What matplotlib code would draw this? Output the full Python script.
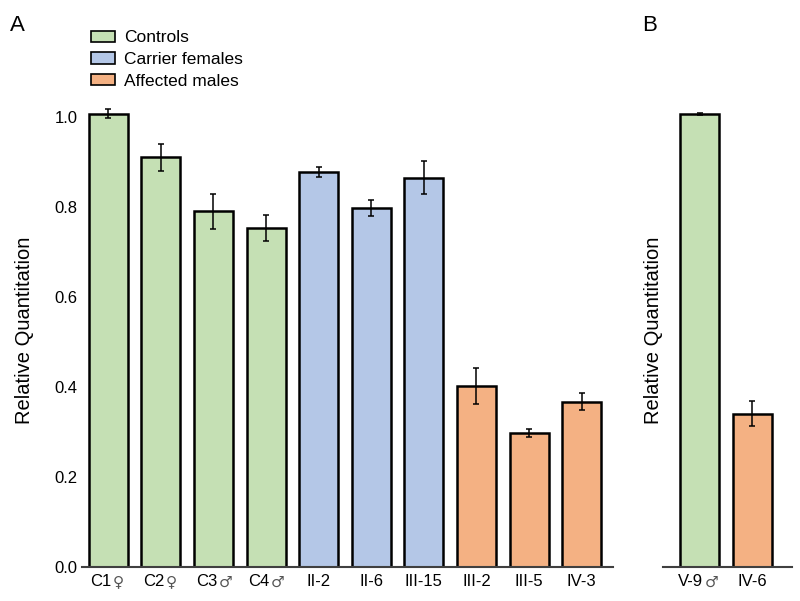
import matplotlib
matplotlib.use('Agg')
import matplotlib.pyplot as plt
from matplotlib.patches import Patch
from matplotlib.transforms import ScaledTranslation

plt.rcParams['font.family'] = ['Liberation Sans', 'DejaVu Sans']

# panel A
labels_a = ['C1♀', 'C2♀', 'C3♂', 'C4♂', 'II-2', 'II-6', 'III-15', 'III-2', 'III-5', 'IV-3']
values_a = [1.007, 0.911, 0.791, 0.753, 0.878, 0.798, 0.865, 0.402, 0.297, 0.367]
errors_a = [0.010, 0.030, 0.039, 0.029, 0.012, 0.018, 0.037, 0.040, 0.009, 0.019]
groups_a = ['Controls'] * 4 + ['Carrier females'] * 3 + ['Affected males'] * 3

# panel B
labels_b = ['V-9♂', 'IV-6']
values_b = [1.007, 0.341]
errors_b = [0.003, 0.028]
groups_b = ['Controls', 'Affected males']

colors = {'Controls': '#c5e0b4', 'Carrier females': '#b4c7e7', 'Affected males': '#f4b183'}
symbols = '♀♂'


def draw(ax, labels, values, errors, groups):
    x = list(range(len(labels)))
    ax.bar(x, values, width=0.74, color=[colors[g] for g in groups],
           edgecolor='black', linewidth=1.8, zorder=2)
    ax.errorbar(x, values, yerr=errors, fmt='none', ecolor='black',
                elinewidth=1.1, capsize=2.2, capthick=1.1, zorder=3)
    ax.set_xticks(x)
    ax.set_ylim(0, 1.05)
    for s in ['top', 'right', 'left']:
        ax.spines[s].set_visible(False)
    ax.spines['bottom'].set_color('#404040')
    ax.spines['bottom'].set_linewidth(1.5)
    ax.tick_params(axis='both', length=0, pad=3)
    ax.set_ylabel('Relative Quantitation', fontsize=14.5)

    # tick labels; sex symbols drawn in DejaVu so they look like the original
    ticklabels = []
    for xi, lab in zip(x, labels):
        if lab[-1] in symbols:
            ticklabels.append('')
            base = ax.get_xaxis_transform()
            ax.text(xi, 0, lab[:-1], fontsize=12, ha='right', va='top',
                    transform=base + ScaledTranslation(2.5 / 72, -5 / 72, ax.figure.dpi_scale_trans))
            ax.text(xi, 0, lab[-1], fontsize=11, ha='left', va='top',
                    family='DejaVu Sans', color='#555555',
                    transform=base + ScaledTranslation(3.5 / 72, -5.5 / 72, ax.figure.dpi_scale_trans))
        else:
            ticklabels.append(lab)
    ax.set_xticklabels(ticklabels, fontsize=12)
    ax.tick_params(axis='x', pad=5)


fig = plt.figure(figsize=(8, 6.01), dpi=100)
ax1 = fig.add_axes([0.1025, 0.0566, 0.664, 0.786])
ax2 = fig.add_axes([0.829, 0.0566, 0.161, 0.786])

draw(ax1, labels_a, values_a, errors_a, groups_a)
ax1.set_xlim(-0.5, 9.6)
ax1.set_yticks([0.0, 0.2, 0.4, 0.6, 0.8, 1.0])
ax1.set_yticklabels(['0.0', '0.2', '0.4', '0.6', '0.8', '1.0'], fontsize=12)
ax1.yaxis.labelpad = 15

draw(ax2, labels_b, values_b, errors_b, groups_b)
ax2.set_xlim(-0.7, 1.76)
ax2.set_yticks([])
ax2.yaxis.labelpad = 0

fig.text(0.012, 0.948, 'A', fontsize=16)
fig.text(0.803, 0.948, 'B', fontsize=16)

handles = [Patch(facecolor=colors[k], edgecolor='black', linewidth=1.2, label=k) for k in colors]
fig.legend(handles=handles, loc='upper left', bbox_to_anchor=(0.098, 0.97), frameon=False,
           fontsize=12.5, handlelength=1.4, handleheight=0.6, handletextpad=0.55,
           labelspacing=0.4, borderpad=0.2)

fig.savefig('out.png', dpi=100)
